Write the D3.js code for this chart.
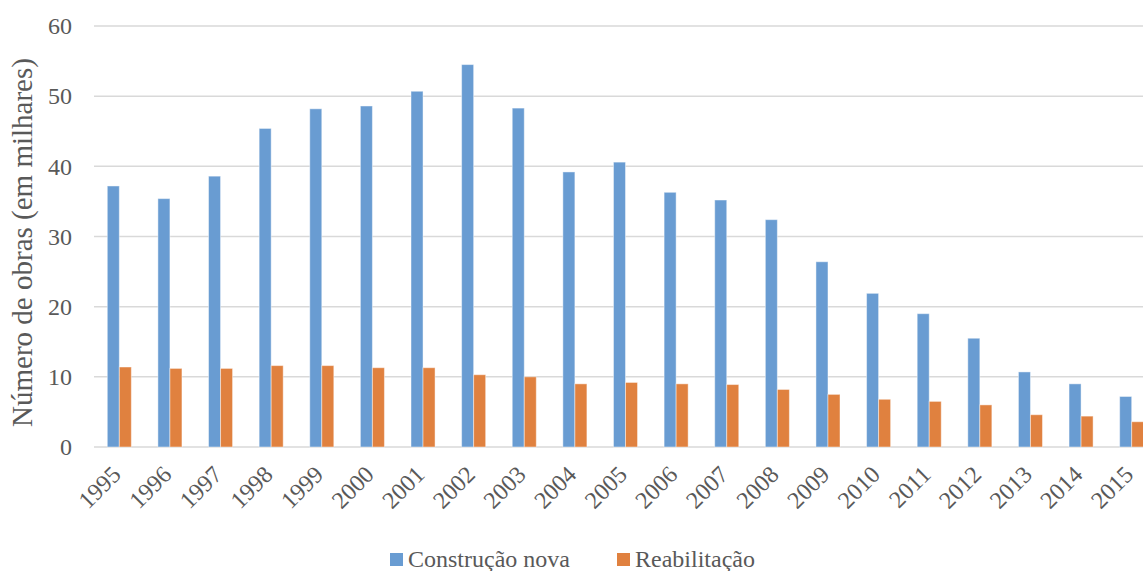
<!DOCTYPE html>
<html>
<head>
<meta charset="utf-8">
<script src="https://cdn.jsdelivr.net/npm/d3@7"></script>
<style>
  html, body { margin: 0; padding: 0; background: #fff; }
  svg { display: block; }
</style>
</head>
<body>
<svg id="chart" width="1143" height="571"></svg>
<script>
// Obras concluídas por ano (milhares)
const years = ["1995","1996","1997","1998","1999","2000","2001","2002","2003","2004","2005",
               "2006","2007","2008","2009","2010","2011","2012","2013","2014","2015"];
const construcaoNova = [37.2, 35.4, 38.6, 45.4, 48.2, 48.6, 50.7, 54.5, 48.3, 39.2, 40.6,
                        36.3, 35.2, 32.4, 26.4, 21.9, 19.0, 15.5, 10.7, 9.0, 7.2];
const reabilitacao = [11.4, 11.2, 11.2, 11.6, 11.6, 11.3, 11.3, 10.3, 10.0, 9.0, 9.2,
                      9.0, 8.9, 8.2, 7.5, 6.8, 6.5, 6.0, 4.6, 4.4, 3.6];
const seriesNames = ["Construção nova", "Reabilitação"];
const seriesColors = ["#699CD2", "#E0813F"];
const yTicks = [0, 10, 20, 30, 40, 50, 60];

const FONT = "'Liberation Serif', 'Times New Roman', Tinos, 'DejaVu Serif', serif";
const TEXT_COLOR = "#595959";

const svg = d3.select("#chart");
const plotLeft = 94, plotRight = 1157, plotTop = 26, plotBottom = 447;

const x = d3.scaleBand().domain(years).range([plotLeft, plotRight])
  .paddingInner(0.525).paddingOuter(0.2625);
const xs = d3.scaleBand().domain(seriesNames).range([0, x.bandwidth()]);
const y = d3.scaleLinear().domain([0, 60]).range([plotBottom, plotTop]);

// grid lines
svg.append("g").selectAll("line").data(yTicks).join("line")
  .attr("x1", plotLeft).attr("x2", 1143)
  .attr("y1", d => y(d)).attr("y2", d => y(d))
  .attr("stroke", "#d9d9d9").attr("stroke-width", 1.5);

// y axis labels
const yAxis = svg.append("g").attr("transform", `translate(${plotLeft},0)`)
  .call(d3.axisLeft(y).tickValues(yTicks).tickSize(0).tickPadding(22));
yAxis.select(".domain").remove();
yAxis.attr("font-family", null).attr("font-size", null);
yAxis.selectAll("text")
  .attr("font-family", FONT)
  .attr("font-size", 24)
  .attr("fill", TEXT_COLOR);

// y axis title
svg.append("text")
  .attr("transform", `translate(32,${(58 + 427) / 2}) rotate(-90)`)
  .attr("text-anchor", "middle")
  .attr("font-family", FONT)
  .attr("font-size", 29)
  .attr("fill", TEXT_COLOR)
  .text("Número de obras (em milhares)");

// bars
const rows = years.map((yr, i) => ({ yr, vals: [construcaoNova[i], reabilitacao[i]] }));
const groups = svg.append("g").selectAll("g").data(rows).join("g")
  .attr("transform", d => `translate(${x(d.yr)},0)`);
groups.selectAll("rect").data(d => d.vals.map((v, j) => ({ v, s: seriesNames[j], c: seriesColors[j] })))
  .join("rect")
  .attr("x", d => xs(d.s))
  .attr("width", xs.bandwidth())
  .attr("y", d => y(d.v))
  .attr("height", d => y(0) - y(d.v))
  .attr("fill", d => d.c)
  .attr("stroke", "rgba(255,255,255,0.45)")
  .attr("stroke-width", 1);

// x axis labels, rotated
svg.append("g").selectAll("text").data(years).join("text")
  .attr("transform", d => `translate(${x(d) + x.bandwidth() / 2 - 3},${plotBottom + 23}) rotate(-45)`)
  .attr("text-anchor", "end")
  .attr("dy", "0.35em")
  .attr("font-family", FONT)
  .attr("font-size", 24)
  .attr("fill", TEXT_COLOR)
  .text(d => d);

// legend
const legendItems = [
  { name: seriesNames[0], color: seriesColors[0], x: 390 },
  { name: seriesNames[1], color: seriesColors[1], x: 617 }
];
const lg = svg.append("g").selectAll("g").data(legendItems).join("g")
  .attr("transform", d => `translate(${d.x},553)`);
lg.append("rect").attr("width", 13).attr("height", 13).attr("fill", d => d.color);
lg.append("text").attr("x", 18).attr("y", 14)
  .attr("font-family", FONT)
  .attr("font-size", 24)
  .attr("fill", TEXT_COLOR)
  .text(d => d.name);
</script>
</body>
</html>
